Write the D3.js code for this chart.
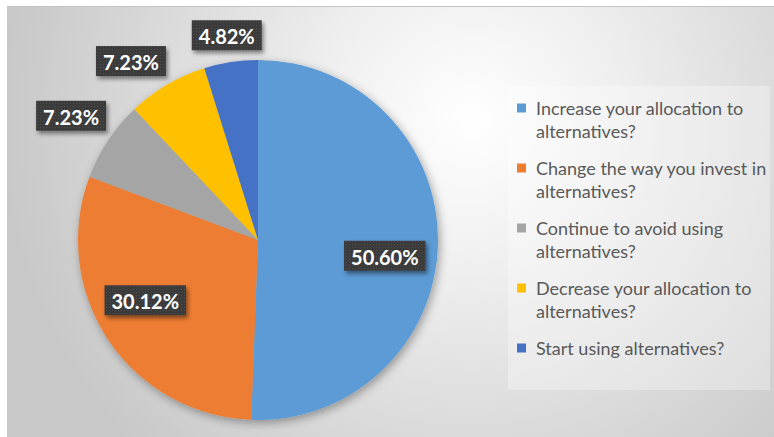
<!DOCTYPE html>
<html>
<head>
<meta charset="utf-8">
<script src="https://cdn.jsdelivr.net/npm/d3@7"></script>
<style>
  html, body { margin: 0; padding: 0; background: #ffffff; }
  svg { display: block; }
</style>
</head>
<body>
<svg id="chart" width="774" height="437"></svg>
<script>
// Survey answers, in slice order (clockwise from 12 o'clock)
const categories = [
  "Increase your allocation to alternatives?",
  "Change the way you invest in alternatives?",
  "Continue to avoid using alternatives?",
  "Decrease your allocation to alternatives?",
  "Start using alternatives?"
];
const shares = [50.60, 30.12, 7.23, 7.23, 4.82];
// Legend entries broken onto two lines
const legendLines = [
  ["Increase your allocation to", "alternatives?"],
  ["Change the way you invest in", "alternatives?"],
  ["Continue to avoid using", "alternatives?"],
  ["Decrease your allocation to", "alternatives?"],
  ["Start using alternatives?"]
];
const sliceColors = ["#5B9BD5", "#ED7D31", "#A5A5A5", "#FFC000", "#4472C4"];

// Layout
const W = 774, H = 437;
const cx = 258, cy = 240, R = 180;
const labelAngleNudge = [6, 5.5, 0, -5, 0]; // degrees, keeps labels clear of each other

const svg = d3.select("#chart");
const defs = svg.append("defs");

// Chart-area background: soft radial grey fill
const bg = defs.append("radialGradient")
  .attr("id", "bgGrad")
  .attr("gradientUnits", "userSpaceOnUse")
  .attr("cx", 470).attr("cy", 120).attr("r", 470);
bg.append("stop").attr("offset", 0).attr("stop-color", "#ffffff");
bg.append("stop").attr("offset", 0.3).attr("stop-color", "#f0f0f0");
bg.append("stop").attr("offset", 0.7).attr("stop-color", "#d9d9d9");
bg.append("stop").attr("offset", 1).attr("stop-color", "#c8c8c8");

// Pie shadow
const pieShadow = defs.append("filter").attr("id", "pieShadow")
  .attr("x", "-20%").attr("y", "-20%").attr("width", "140%").attr("height", "140%");
pieShadow.append("feDropShadow")
  .attr("dx", 2).attr("dy", 3).attr("stdDeviation", 5)
  .attr("flood-color", "#000").attr("flood-opacity", 0.35);

// Label box shadow
const boxShadow = defs.append("filter").attr("id", "boxShadow")
  .attr("x", "-20%").attr("y", "-30%").attr("width", "150%").attr("height", "170%");
boxShadow.append("feDropShadow")
  .attr("dx", 2).attr("dy", 3).attr("stdDeviation", 2)
  .attr("flood-color", "#000").attr("flood-opacity", 0.45);

// Dotted dark texture for label boxes
const pat = defs.append("pattern").attr("id", "dots")
  .attr("patternUnits", "userSpaceOnUse").attr("width", 3).attr("height", 3);
pat.append("rect").attr("width", 3).attr("height", 3).attr("fill", "#3b3b3b");
pat.append("rect").attr("x", 1).attr("y", 1).attr("width", 1).attr("height", 1).attr("fill", "#4d4d4d");

// Background
svg.append("rect").attr("x", 7).attr("y", 6).attr("width", W - 7).attr("height", H - 6)
  .attr("fill", "url(#bgGrad)");
svg.append("line").attr("x1", 7).attr("x2", W).attr("y1", 6.5).attr("y2", 6.5)
  .attr("stroke", "#c4c4c4").attr("stroke-width", 1);
svg.append("line").attr("x1", 7.5).attr("x2", 7.5).attr("y1", 6).attr("y2", H)
  .attr("stroke", "#c8c8c8").attr("stroke-width", 1);

// Pie
const pie = d3.pie().sort(null).value(d => d);
const arcs = pie(shares);
const arc = d3.arc().innerRadius(0).outerRadius(R);
const color = d3.scaleOrdinal().domain(d3.range(shares.length)).range(sliceColors);

const pieG = svg.append("g").attr("transform", `translate(${cx},${cy})`);
pieG.append("g").attr("filter", "url(#pieShadow)")
  .selectAll("path").data(arcs).join("path")
  .attr("d", arc)
  .attr("fill", (d, i) => color(i));

// Data labels
const fmt = v => d3.format(".2f")(v) + "%";
const labelG = svg.append("g");
arcs.forEach((d, i) => {
  const g = labelG.append("g");
  const rect = g.append("rect").attr("fill", "url(#dots)").attr("filter", "url(#boxShadow)");
  const t = g.append("text")
    .attr("text-anchor", "middle")
    .attr("dominant-baseline", "central")
    .attr("fill", "#ffffff")
    .attr("font-family", "Lato, 'Open Sans', sans-serif")
    .attr("font-weight", 700)
    .attr("font-size", 20)
    .text(fmt(d.data));
  const tw = t.node().getComputedTextLength();
  const bw = tw + 14, bh = 30;
  const a = (d.startAngle + d.endAngle) / 2 + labelAngleNudge[i] * Math.PI / 180;
  let r;
  if (d.data > 20) {
    r = R * 0.71;
  } else {
    const extent = Math.abs(bw / 2 * Math.sin(a)) + Math.abs(bh / 2 * Math.cos(a));
    r = R + 7 + extent;
  }
  const x = cx + r * Math.sin(a), y = cy - r * Math.cos(a);
  rect.attr("x", x - bw / 2).attr("y", y - bh / 2).attr("width", bw).attr("height", bh);
  t.attr("x", x).attr("y", y + 1);
});

// Legend
const legendG = svg.append("g");
legendG.append("rect")
  .attr("x", 508).attr("y", 86).attr("width", 262).attr("height", 304)
  .attr("fill", "#ffffff").attr("fill-opacity", 0.3);

const itemY = d3.scalePoint().domain(d3.range(categories.length)).range([108, 348]);
const items = legendG.selectAll("g.item").data(categories).join("g")
  .attr("class", "item")
  .attr("transform", (d, i) => `translate(517,${itemY(i)})`);
items.append("rect")
  .attr("x", 0).attr("y", -4.5).attr("width", 9).attr("height", 9)
  .attr("fill", (d, i) => color(i));
items.append("text")
  .attr("font-family", "Lato, 'Open Sans', sans-serif")
  .attr("font-size", 18)
  .attr("fill", "#595959")
  .each(function(d, i) {
    const txt = d3.select(this);
    legendLines[i].forEach((line, j) => {
      txt.append("tspan").attr("x", 19).attr("y", j * 23)
        .attr("dominant-baseline", "central").text(line);
    });
  });
</script>
</body>
</html>
